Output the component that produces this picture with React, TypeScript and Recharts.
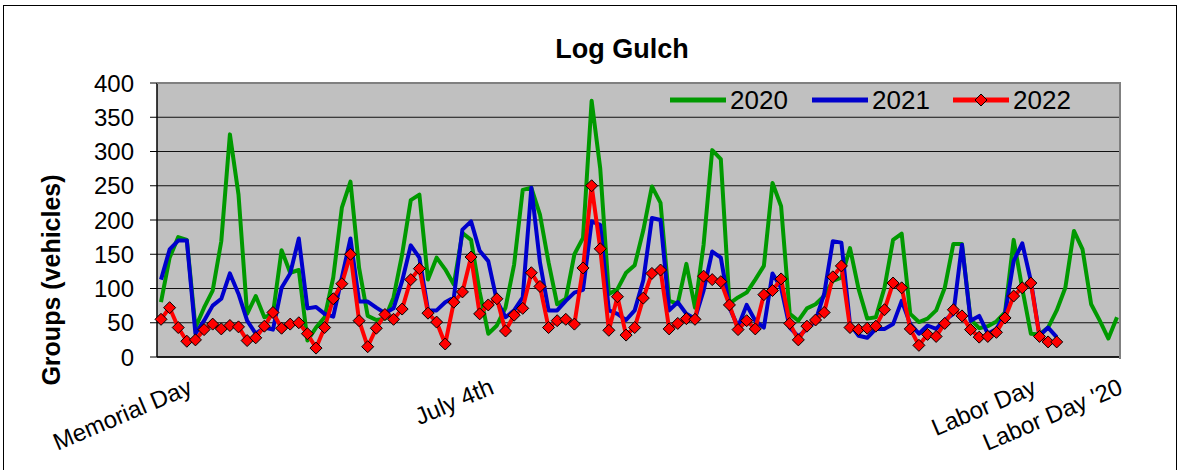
import React from "react";
import {
  LineChart,
  Line,
  XAxis,
  YAxis,
  CartesianGrid,
} from "recharts";

// daily group counts (2020 runs a week longer)
const groups2020 = [
  80, 145, 175, 171, 43, 72, 97, 169, 325, 237, 63, 89, 58, 63, 156, 123, 127, 24, 43,
  58, 116, 218, 256, 130, 60, 54, 56, 87, 150, 229, 237, 113, 145, 128, 106, 181, 171, 95,
  34, 46, 72, 135, 244, 247, 208, 138, 77, 85, 150, 174, 374, 275, 92, 99, 123, 134, 185,
  249, 225, 82, 78, 136, 72, 164, 302, 289, 78, 87, 94, 113, 133, 254, 220, 63, 53, 71,
  77, 89, 111, 116, 159, 99, 56, 58, 101, 171, 180, 63, 51, 56, 68, 101, 165, 165, 55,
  42, 45, 52, 65, 171, 100, 34, 33, 43, 68, 101, 184, 157, 77, 53, 27, 58,
];

const groups2021 = [
  113, 157, 170, 170, 34, 53, 75, 85, 122, 92, 53, 34, 43, 40, 101, 122, 173, 71, 73,
  63, 59, 116, 173, 81, 81, 72, 64, 71, 111, 163, 145, 68, 68, 80, 87, 186, 198, 155,
  140, 82, 58, 68, 87, 247, 138, 68, 68, 82, 94, 98, 198, 193, 68, 63, 54, 68, 112,
  203, 200, 68, 80, 63, 56, 97, 154, 145, 72, 44, 76, 53, 43, 122, 101, 43, 30, 41,
  53, 92, 169, 167, 48, 31, 28, 41, 41, 48, 82, 48, 34, 46, 41, 54, 63, 164, 53,
  60, 34, 41, 63, 140, 166, 111, 31, 43, 29,
];

const groups2022 = [
  55, 72, 43, 23, 25, 40, 48, 41, 46, 44, 24, 28, 45, 65, 42, 48, 50, 34, 13,
  43, 85, 107, 150, 53, 15, 42, 62, 55, 70, 113, 129, 64, 51, 19, 80, 95, 146, 63,
  76, 85, 38, 61, 71, 123, 103, 43, 53, 55, 48, 130, 250, 158, 39, 88, 32, 43, 86,
  122, 127, 41, 49, 56, 55, 118, 113, 110, 76, 40, 53, 41, 91, 97, 114, 49, 25, 45,
  54, 65, 117, 133, 43, 40, 42, 45, 69, 108, 101, 41, 17, 33, 30, 49, 69, 60, 40,
  29, 30, 36, 57, 89, 101, 108, 30, 22, 22,
];

// labelled days on the x axis
const holidayDays = [3, 38, 101, 111];
const holidayNames = ["Memorial Day", "July 4th", "Labor Day", "Labor Day '20"];

const yTicks = [0, 50, 100, 150, 200, 250, 300, 350, 400];

const data = groups2020.map((v, i) => ({
  day: i,
  y2020: v,
  y2021: i < groups2021.length ? groups2021[i] : null,
  y2022: i < groups2022.length ? groups2022[i] : null,
}));

const FONT = "'Liberation Sans', Arial, sans-serif";
const GREEN = "#009900";
const BLUE = "#0000CC";
const RED = "#FF0000";

const HolidayTick = (props: any) => {
  const { x, y, payload } = props;
  const idx = holidayDays.indexOf(payload.value);
  if (idx < 0) return null;
  return (
    <g transform={`translate(${x + 7},${y + 28})`}>
      <text
        textAnchor="end"
        transform="rotate(-23)"
        fontSize={24}
        fontFamily={FONT}
        fill="#000"
      >
        {holidayNames[idx]}
      </text>
    </g>
  );
};

const Diamond = (props: any) => {
  const { cx, cy, index } = props;
  if (cx == null || cy == null) return <g key={index} />;
  const r = 6;
  return (
    <polygon
      key={index}
      points={`${cx},${cy - r} ${cx + r},${cy} ${cx},${cy + r} ${cx - r},${cy}`}
      fill={RED}
      stroke="#000"
      strokeWidth={1}
    />
  );
};

const YTitle = () => (
  <text
    x={60}
    y={280}
    transform="rotate(-90, 60, 280)"
    textAnchor="middle"
    fontSize={25}
    fontWeight="bold"
    fontFamily={FONT}
    fill="#000"
  >
    Groups (vehicles)
  </text>
);

const legendItems = [
  { name: "2020", color: GREEN, left: 670, marker: false },
  { name: "2021", color: BLUE, left: 812, marker: false },
  { name: "2022", color: RED, left: 953, marker: true },
];

export default function App() {
  return (
    <div
      style={{
        position: "absolute",
        left: 0,
        top: 0,
        width: 1180,
        height: 470,
        background: "#fff",
        fontFamily: FONT,
        overflow: "hidden",
      }}
    >
      <div
        style={{
          position: "absolute",
          left: 3,
          top: 5,
          width: 1172,
          height: 480,
          border: "1px solid #000",
        }}
      />
      <div
        style={{
          position: "absolute",
          left: 0,
          width: 1244,
          top: 34,
          textAlign: "center",
          fontSize: 27,
          fontWeight: "bold",
        }}
      >
        Log Gulch
      </div>

      <div style={{ position: "absolute", left: 0, top: 0 }}>
        <LineChart
          width={1180}
          height={470}
          data={data}
          margin={{ top: 83, right: 59, left: 0, bottom: 53 }}
        >
          <CartesianGrid
            vertical={false}
            stroke="#111"
            fill="#C0C0C0"
            fillOpacity={1}
          />
          <XAxis
            dataKey="day"
            type="category"
            ticks={holidayDays}
            interval={0}
            tick={<HolidayTick />}
            tickLine={false}
            axisLine={{ stroke: "#000", strokeWidth: 1.5 }}
            padding={{ left: 4, right: 4 }}
            height={60}
          />
          <YAxis
            domain={[0, 400]}
            ticks={yTicks}
            width={157}
            tickSize={7}
            tickMargin={16}
            tick={{ fontSize: 24, fill: "#000", fontFamily: FONT }}
            tickLine={{ stroke: "#000" }}
            axisLine={{ stroke: "#000", strokeWidth: 1.5 }}
            label={<YTitle />}
          />
          <Line
            dataKey="y2020"
            stroke={GREEN}
            strokeWidth={4}
            dot={false}
            activeDot={false}
            isAnimationActive={false}
            strokeLinejoin="round"
          />
          <Line
            dataKey="y2021"
            stroke={BLUE}
            strokeWidth={4}
            dot={false}
            activeDot={false}
            isAnimationActive={false}
            strokeLinejoin="round"
          />
          <Line
            dataKey="y2022"
            stroke={RED}
            strokeWidth={4}
            dot={<Diamond />}
            activeDot={false}
            isAnimationActive={false}
            strokeLinejoin="round"
          />
        </LineChart>
      </div>

      {/* plot area frame */}
      <div
        style={{
          position: "absolute",
          left: 157,
          top: 82,
          width: 962,
          height: 275,
          borderTop: "2px solid #808080",
          borderRight: "2px solid #808080",
          pointerEvents: "none",
        }}
      />

      {legendItems.map((it) => (
        <div
          key={it.name}
          style={{
            position: "absolute",
            left: it.left,
            top: 84,
            height: 32,
            display: "flex",
            alignItems: "center",
          }}
        >
          <svg width={56} height={16} style={{ marginRight: 4 }}>
            <line x1={0} y1={8} x2={56} y2={8} stroke={it.color} strokeWidth={5} />
            {it.marker && (
              <polygon points="28,2 34,8 28,14 22,8" fill={RED} stroke="#000" />
            )}
          </svg>
          <span style={{ fontSize: 26, color: "#000" }}>{it.name}</span>
        </div>
      ))}
    </div>
  );
}
